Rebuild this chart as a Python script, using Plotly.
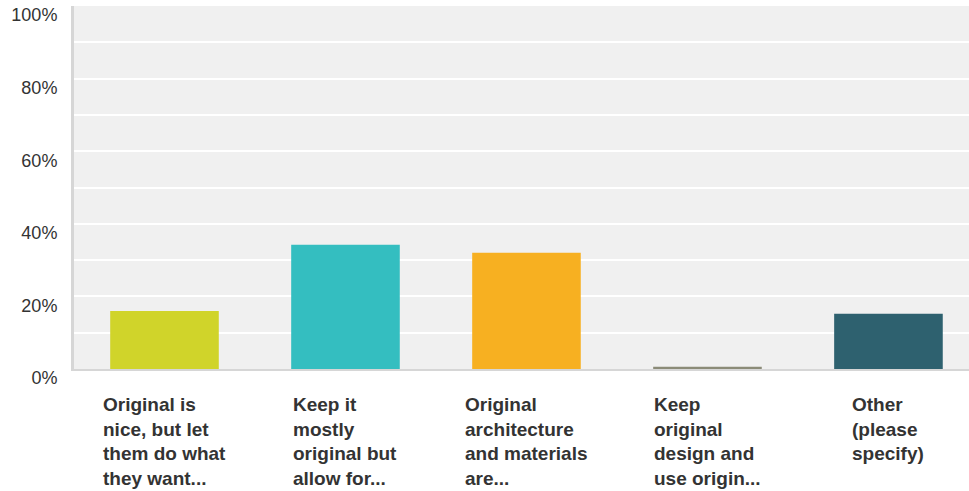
import plotly.graph_objects as go

categories = [
    "Original is<br>nice, but let<br>them do what<br>they want...",
    "Keep it<br>mostly<br>original but<br>allow for...",
    "Original<br>architecture<br>and materials<br>are...",
    "Keep<br>original<br>design and<br>use origin...",
    "Other<br>(please<br>specify)",
]
values = [16.0, 34.2, 32.0, 0.6, 15.2]
colors = ["#D0D42A", "#34BEC0", "#F7B021", "#8B8B78", "#2E616F"]
y_tick_vals = [0, 20, 40, 60, 80, 100]
y_tick_text = ["0%", "20%", "40%", "60%", "80%", "100%"]

x_idx = list(range(len(categories)))

fig = go.Figure(
    go.Bar(
        x=x_idx,
        y=values,
        marker=dict(color=colors, line=dict(width=0)),
        width=0.6,
        hoverinfo="skip",
    )
)

for i, lab in zip(x_idx, categories):
    fig.add_annotation(
        x=i, xref="x", y=0, yref="paper",
        text="<b>" + lab + "</b>",
        showarrow=False, xanchor="center", yanchor="top", align="left",
        yshift=-23,
        font=dict(family="Liberation Sans, Arial, sans-serif", size=19, color="#333333"),
    )

fig.update_layout(
    width=969, height=491,
    margin=dict(l=74, r=0, t=6, b=122, autoexpand=False),
    paper_bgcolor="white",
    plot_bgcolor="#F0F0F0",
    showlegend=False,
    bargap=0.4,
    font=dict(family="Liberation Sans, Arial, sans-serif", size=18, color="#333333"),
)
fig.update_xaxes(
    range=[-0.5, 4.445],
    showticklabels=False, showgrid=False, zeroline=False,
    showline=True, linecolor="#D6D6D6", linewidth=2,
    fixedrange=True,
)
fig.update_yaxes(
    range=[0, 100],
    tickvals=y_tick_vals, ticktext=y_tick_text,
    showgrid=True, gridcolor="white", gridwidth=2,
    minor=dict(dtick=10, showgrid=True, gridcolor="white", gridwidth=2),
    zeroline=False,
    showline=True, linecolor="#D6D6D6", linewidth=3,
    ticks="", ticklabelstandoff=10, ticklabelshift=9,
    tickfont=dict(size=18, color="#333333"),
    fixedrange=True,
)

fig.write_html(
    "out.html",
    config={"displayModeBar": False},
    post_script="document.body.style.margin='0';document.body.style.padding='0';",
)
